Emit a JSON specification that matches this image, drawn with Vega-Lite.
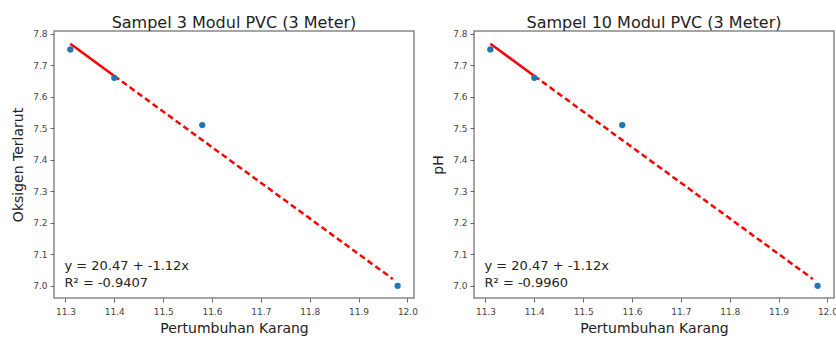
{
  "$schema": "https://vega.github.io/schema/vega-lite/v6.json",
  "padding": {"left": 10, "top": 13, "right": 0, "bottom": 0},
  "background": "white",
  "datasets": {
    "pts": [
      {"x": 11.31, "y": 7.75},
      {"x": 11.40, "y": 7.66},
      {"x": 11.58, "y": 7.51},
      {"x": 11.98, "y": 7.00}
    ],
    "fit": [
      {"x": 11.31, "y": 7.768, "seg": "solid"},
      {"x": 11.40, "y": 7.666, "seg": "solid"},
      {"x": 11.40, "y": 7.666, "seg": "dashed"},
      {"x": 11.97, "y": 7.022, "seg": "dashed"}
    ],
    "ann": [
      {"panel": "a", "txt": "y = 20.47 + -1.12x\nR² = -0.9407"},
      {"panel": "b", "txt": "y = 20.47 + -1.12x\nR² = -0.9960"}
    ]
  },
  "hconcat": [
    {
      "width": 360, "height": 267,
      "title": {"text": "Sampel 3 Modul PVC (3 Meter)"},
      "layer": [
        {"data": {"name": "fit"}, "transform": [{"filter": "datum.seg === 'solid'"}],
         "mark": {"type": "line", "color": "#ff0000", "strokeWidth": 2.5},
         "encoding": {
           "x": {"field": "x", "type": "quantitative", "scale": {"domain": [11.2765, 12.0135], "nice": false, "zero": false},
                 "axis": {"title": "Pertumbuhan Karang", "values": [11.3, 11.4, 11.5, 11.6, 11.7, 11.8, 11.9, 12.0], "format": ".1f"}},
           "y": {"field": "y", "type": "quantitative", "scale": {"domain": [6.9615, 7.8085], "nice": false, "zero": false},
                 "axis": {"title": "Oksigen Terlarut", "values": [7.0, 7.1, 7.2, 7.3, 7.4, 7.5, 7.6, 7.7, 7.8], "format": ".1f"}}
         }},
        {"data": {"name": "fit"}, "transform": [{"filter": "datum.seg === 'dashed'"}],
         "mark": {"type": "line", "color": "#ff0000", "strokeWidth": 2.5, "strokeDash": [6, 3.5]},
         "encoding": {
           "x": {"field": "x", "type": "quantitative", "axis": {"title": "Pertumbuhan Karang", "values": [11.3, 11.4, 11.5, 11.6, 11.7, 11.8, 11.9, 12.0], "format": ".1f"}},
           "y": {"field": "y", "type": "quantitative", "axis": {"title": "Oksigen Terlarut", "values": [7.0, 7.1, 7.2, 7.3, 7.4, 7.5, 7.6, 7.7, 7.8], "format": ".1f"}}}},
        {"data": {"name": "pts"},
         "mark": {"type": "point", "filled": true, "color": "#1f77b4", "size": 40, "opacity": 1},
         "encoding": {
           "x": {"field": "x", "type": "quantitative", "axis": {"title": "Pertumbuhan Karang", "values": [11.3, 11.4, 11.5, 11.6, 11.7, 11.8, 11.9, 12.0], "format": ".1f"}},
           "y": {"field": "y", "type": "quantitative", "axis": {"title": "Oksigen Terlarut", "values": [7.0, 7.1, 7.2, 7.3, 7.4, 7.5, 7.6, 7.7, 7.8], "format": ".1f"}}}},
        {"data": {"name": "ann"}, "transform": [{"filter": "datum.panel === 'a'"}],
         "mark": {"type": "text", "align": "left", "baseline": "alphabetic", "fontSize": 13, "lineBreak": "\n", "lineHeight": 16.5, "color": "#222", "font": "DejaVu Sans"},
         "encoding": {
           "x": {"datum": 11.298, "type": "quantitative", "axis": {"title": "Pertumbuhan Karang", "values": [11.3, 11.4, 11.5, 11.6, 11.7, 11.8, 11.9, 12.0], "format": ".1f"}},
           "y": {"datum": 7.05, "type": "quantitative", "axis": {"title": "Oksigen Terlarut", "values": [7.0, 7.1, 7.2, 7.3, 7.4, 7.5, 7.6, 7.7, 7.8], "format": ".1f"}},
           "text": {"field": "txt"}}}
      ]
    },
    {
      "width": 360, "height": 267,
      "title": {"text": "Sampel 10 Modul PVC (3 Meter)"},
      "layer": [
        {"data": {"name": "fit"}, "transform": [{"filter": "datum.seg === 'solid'"}],
         "mark": {"type": "line", "color": "#ff0000", "strokeWidth": 2.5},
         "encoding": {
           "x": {"field": "x", "type": "quantitative", "scale": {"domain": [11.2765, 12.0135], "nice": false, "zero": false},
                 "axis": {"title": "Pertumbuhan Karang", "values": [11.3, 11.4, 11.5, 11.6, 11.7, 11.8, 11.9, 12.0], "format": ".1f"}},
           "y": {"field": "y", "type": "quantitative", "scale": {"domain": [6.9615, 7.8085], "nice": false, "zero": false},
                 "axis": {"title": "pH", "values": [7.0, 7.1, 7.2, 7.3, 7.4, 7.5, 7.6, 7.7, 7.8], "format": ".1f"}}
         }},
        {"data": {"name": "fit"}, "transform": [{"filter": "datum.seg === 'dashed'"}],
         "mark": {"type": "line", "color": "#ff0000", "strokeWidth": 2.5, "strokeDash": [6, 3.5]},
         "encoding": {
           "x": {"field": "x", "type": "quantitative", "axis": {"title": "Pertumbuhan Karang", "values": [11.3, 11.4, 11.5, 11.6, 11.7, 11.8, 11.9, 12.0], "format": ".1f"}},
           "y": {"field": "y", "type": "quantitative", "axis": {"title": "pH", "values": [7.0, 7.1, 7.2, 7.3, 7.4, 7.5, 7.6, 7.7, 7.8], "format": ".1f"}}}},
        {"data": {"name": "pts"},
         "mark": {"type": "point", "filled": true, "color": "#1f77b4", "size": 40, "opacity": 1},
         "encoding": {
           "x": {"field": "x", "type": "quantitative", "axis": {"title": "Pertumbuhan Karang", "values": [11.3, 11.4, 11.5, 11.6, 11.7, 11.8, 11.9, 12.0], "format": ".1f"}},
           "y": {"field": "y", "type": "quantitative", "axis": {"title": "pH", "values": [7.0, 7.1, 7.2, 7.3, 7.4, 7.5, 7.6, 7.7, 7.8], "format": ".1f"}}}},
        {"data": {"name": "ann"}, "transform": [{"filter": "datum.panel === 'b'"}],
         "mark": {"type": "text", "align": "left", "baseline": "alphabetic", "fontSize": 13, "lineBreak": "\n", "lineHeight": 16.5, "color": "#222", "font": "DejaVu Sans"},
         "encoding": {
           "x": {"datum": 11.298, "type": "quantitative", "axis": {"title": "Pertumbuhan Karang", "values": [11.3, 11.4, 11.5, 11.6, 11.7, 11.8, 11.9, 12.0], "format": ".1f"}},
           "y": {"datum": 7.05, "type": "quantitative", "axis": {"title": "pH", "values": [7.0, 7.1, 7.2, 7.3, 7.4, 7.5, 7.6, 7.7, 7.8], "format": ".1f"}},
           "text": {"field": "txt"}}}
      ]
    }
  ],
  "spacing": 60,
  "bounds": "flush",
  "config": {
    "font": "DejaVu Sans",
    "view": {"stroke": "#888888", "strokeWidth": 1.5},
    "title": {"fontSize": 16, "fontWeight": "normal", "color": "#222", "offset": -1, "anchor": "middle", "font": "DejaVu Sans"},
    "axis": {
      "grid": false, "domain": false,
      "tickSize": 4, "tickColor": "#666", "tickWidth": 1,
      "labelFontSize": 9, "labelColor": "#444", "labelPadding": 3, "labelFont": "DejaVu Sans",
      "labelOverlap": false,
      "titleFontSize": 14, "titleFontWeight": "normal", "titleColor": "#222", "titleFont": "DejaVu Sans"
    },
    "axisX": {"titlePadding": 5, "labelPadding": 5, "labelFlush": false},
    "axisY": {"titlePadding": 7, "labelFlush": false}
  }
}
